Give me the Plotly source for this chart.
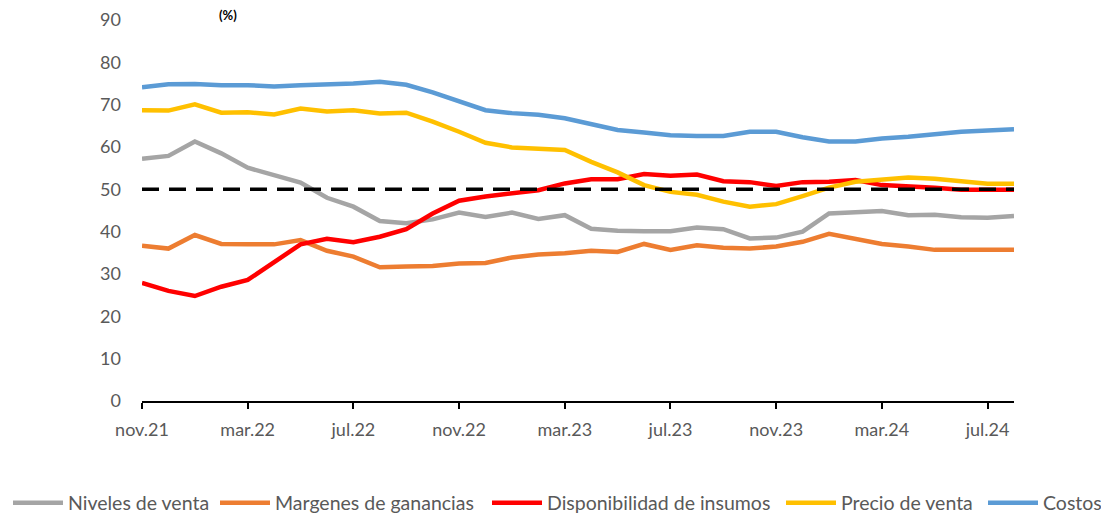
import plotly.graph_objects as go

months = ["nov.21","dic.21","ene.22","feb.22","mar.22","abr.22","may.22","jun.22","jul.22","ago.22",
          "sep.22","oct.22","nov.22","dic.22","ene.23","feb.23","mar.23","abr.23","may.23","jun.23",
          "jul.23","ago.23","sep.23","oct.23","nov.23","dic.23","ene.24","feb.24","mar.24","abr.24",
          "may.24","jun.24","jul.24","ago.24"]

niveles_venta = [57.2,57.9,61.3,58.5,55.1,53.4,51.6,48.0,45.9,42.5,42.0,42.9,44.5,43.5,44.5,43.0,43.9,40.7,40.2,40.1,
                 40.1,41.0,40.6,38.4,38.6,40.0,44.3,44.6,44.9,43.9,44.0,43.4,43.3,43.7]
margenes = [36.7,36.0,39.2,37.1,37.0,37.0,38.0,35.5,34.1,31.6,31.8,31.9,32.5,32.6,33.9,34.6,34.9,35.5,35.2,37.1,
            35.7,36.8,36.2,36.0,36.5,37.6,39.5,38.2,37.1,36.5,35.7,35.7,35.7,35.7]
disponibilidad = [27.9,26.0,24.8,27.0,28.6,32.8,37.0,38.3,37.5,38.8,40.6,44.3,47.3,48.3,49.1,49.8,51.4,52.4,52.4,53.6,
                  53.2,53.5,51.9,51.7,50.8,51.7,51.8,52.2,51.0,50.8,50.4,49.9,49.9,49.9]
precio_venta = [68.7,68.6,70.1,68.1,68.2,67.7,69.1,68.4,68.7,67.9,68.1,66.0,63.6,61.0,59.9,59.5,59.3,56.5,54.0,51.0,
                49.4,48.7,47.1,45.9,46.5,48.4,50.4,51.8,52.4,52.8,52.5,51.8,51.3,51.3]
costos = [74.1,74.8,74.9,74.6,74.6,74.3,74.6,74.7,75.0,75.4,74.7,72.9,70.7,68.7,68.0,67.6,66.8,65.4,64.0,63.4,
          62.8,62.6,62.6,63.6,63.6,62.3,61.3,61.3,62.0,62.4,63.1,63.6,63.9,64.2]
umbral = [50] * len(months)

tick_labels = ["nov.21","mar.22","jul.22","nov.22","mar.23","jul.23","nov.23","mar.24","jul.24"]
y_ticks = [0,10,20,30,40,50,60,70,80,90]

series_names = ["Niveles de venta", "Margenes de ganancias", "Disponibilidad de insumos",
                "Precio de venta", "Costos"]
series_values = [niveles_venta, margenes, disponibilidad, precio_venta, costos]
series_colors = ["#A5A5A5", "#ED7D31", "#FF0000", "#FFC000", "#5B9BD5"]

# left edge (figure px) of each legend entry, mimicking the reference's single-row legend
legend_left_px = [0, 207, 479, 773, 975]
legend_ids = ["legend", "legend2", "legend3", "legend4", "legend5"]

fig = go.Figure()
for name, vals, color, lg in zip(series_names, series_values, series_colors, legend_ids):
    fig.add_trace(go.Scatter(x=months, y=vals, name=name, mode="lines", legend=lg,
                             line=dict(color=color, width=4.5)))
fig.add_trace(go.Scatter(x=months, y=umbral, mode="lines", showlegend=False,
                         line=dict(color="black", width=3.5, dash="17px,10px")))

font_fam = "Lato, 'Open Sans', sans-serif"
# page body has an 8px default margin, so the figure is sized/positioned to compensate
L, T, W_PLOT, H_PLOT = 134, 12, 872, 381
leg_y = -(495 - (T + H_PLOT)) / H_PLOT
leg_common = dict(orientation="h", yref="paper", y=leg_y, yanchor="middle", xanchor="left",
                  font=dict(size=19.5, color="#595959"), itemwidth=50, tracegroupgap=0,
                  bgcolor="rgba(0,0,0,0)", borderwidth=0)
legends = {lg: dict(x=(px - L) / W_PLOT, **leg_common) for lg, px in zip(legend_ids, legend_left_px)}

fig.update_layout(
    width=1101, height=508,
    margin=dict(l=L, r=95, t=T, b=115, autoexpand=False),
    paper_bgcolor="white", plot_bgcolor="white",
    font=dict(family=font_fam, size=18, color="#595959"),
    showlegend=True,
    **legends,
    xaxis=dict(type="category", range=[0, len(months) - 1], tickmode="array",
               tickvals=tick_labels, ticktext=tick_labels,
               showline=True, linecolor="black", linewidth=2,
               ticks="outside", ticklen=6, tickwidth=2, tickcolor="black",
               showgrid=False, zeroline=False, automargin=False, ticklabelstandoff=5,
               tickfont=dict(size=18, color="#595959")),
    yaxis=dict(range=[0, 90], tickvals=y_ticks, showgrid=False, zeroline=False,
               showline=False, ticks="", ticklabelstandoff=20, automargin=False,
               tickfont=dict(size=18, color="#595959")),
)
fig.add_annotation(text="<b>(%)</b>", xref="paper", yref="paper", x=(228-142)/872, y=1,
                   xanchor="center", yanchor="bottom", yshift=-5, showarrow=False,
                   font=dict(size=13, color="black"))

fig.write_html("out.html")
